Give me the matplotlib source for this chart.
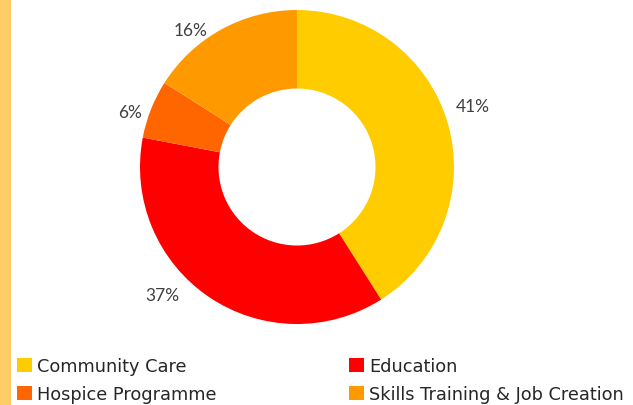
import matplotlib
matplotlib.use("Agg")
import matplotlib.pyplot as plt
from matplotlib.patches import Rectangle, Patch

categories = ["Community Care", "Education", "Hospice Programme", "Skills Training & Job Creation"]
shares = [41, 37, 6, 16]
colors = ["#FFCC00", "#FF0000", "#FF6600", "#FF9900"]

# label positions around the ring (axes data units, ring radius = 1)
label_pos = [(1.12, 0.39), (-0.86, -0.815), (-1.064, 0.35), (-0.675, 0.873)]

plt.rcParams["font.family"] = ["Lato", "DejaVu Sans"]

W, H = 633, 406
fig = plt.figure(figsize=(W / 100, H / 100), dpi=100)

# light orange strip at the left edge
fig.patches.append(Rectangle((0, 0), 11 / W, 1, transform=fig.transFigure,
                             facecolor="#FFCC66", edgecolor="none"))

cx, cy, r = 297, 406 - 168, 157
ax = fig.add_axes([(cx - r) / W, (cy - r) / H, 2 * r / W, 2 * r / H])
wedges, texts, autotexts = ax.pie(
    shares, colors=colors, startangle=90, counterclock=False,
    radius=1, wedgeprops=dict(width=0.5, edgecolor="none"),
    autopct=lambda p: f"{p:.0f}%", pctdistance=1.17,
    textprops=dict(color="#404040", fontsize=12.5),
)
for t, pos in zip(autotexts, label_pos):
    t.set_position(pos)
ax.set_xlim(-1, 1)
ax.set_ylim(-1, 1)
ax.set_aspect("equal")
ax.axis("off")

handles = [Patch(facecolor=c, edgecolor="none") for c in colors]
leg_kw = dict(loc="upper left", frameon=False, handlelength=0.85,
              handleheight=0.85, handletextpad=0.3, labelspacing=0.55,
              borderpad=0, borderaxespad=0, labelcolor="#262626",
              prop=dict(family="DejaVu Sans", size=12.8))
leg1 = fig.legend([handles[0], handles[2]], [categories[0], categories[2]],
                  bbox_to_anchor=(17 / W, 1 - 358 / H), **leg_kw)
leg2 = fig.legend([handles[1], handles[3]], [categories[1], categories[3]],
                  bbox_to_anchor=(349 / W, 1 - 358 / H), **leg_kw)

fig.savefig("out.png", dpi=100)
